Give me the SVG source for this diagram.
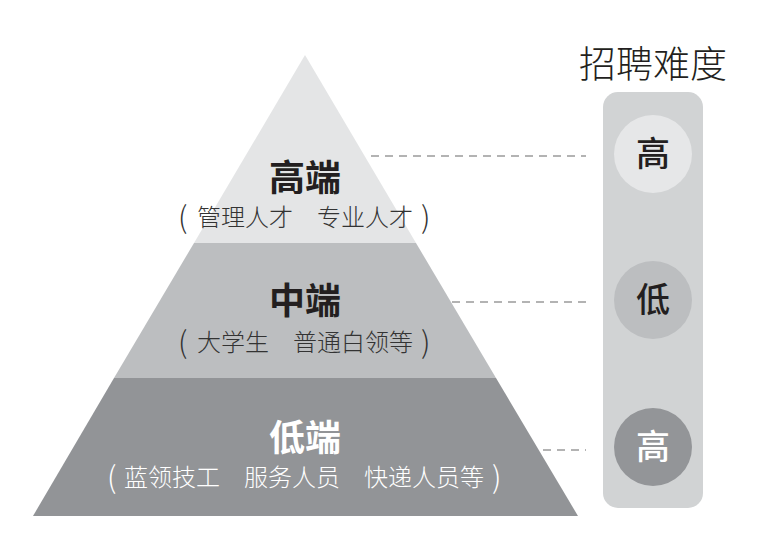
<svg xmlns="http://www.w3.org/2000/svg" width="758" height="545" viewBox="0 0 758 545">
<style>
.t{font-family:"Noto Sans CJK SC","Noto Sans",sans-serif;text-anchor:middle}
.p{font-family:"Noto Sans CJK SC","Noto Sans",sans-serif;font-size:30px;font-weight:300}
.h{font-size:36px;font-weight:700}
.s{font-size:24px;font-weight:300}
.c{font-size:34px;font-weight:500}
.dash{stroke:#9a9a9a;stroke-width:1.6;stroke-dasharray:8 6;fill:none}
</style>
<rect width="758" height="545" fill="#ffffff"/>
<g id="connectors">
<line class="dash" x1="371" y1="156" x2="586" y2="156"/>
<line class="dash" x1="452" y1="302" x2="586" y2="302"/>
<line class="dash" x1="543" y1="450" x2="586" y2="450"/>
</g>
<g id="tier-high">
<polygon points="305,55 194,243 416,243" fill="#e4e5e6"/>
<text class="t h" x="305" y="191" fill="#231f20">高端</text>
<text class="p" x="178" y="228" fill="#333333">(</text>
<text class="t s" x="305" y="226" fill="#333333">管理人才　专业人才</text>
<text class="p" x="421" y="228" fill="#333333">)</text>
</g>
<g id="tier-mid">
<polygon points="194,243 416,243 496,378 114,378" fill="#bcbec0"/>
<text class="t h" x="305" y="314" fill="#231f20">中端</text>
<text class="p" x="178" y="353" fill="#333333">(</text>
<text class="t s" x="305" y="351" fill="#333333">大学生　普通白领等</text>
<text class="p" x="421" y="353" fill="#333333">)</text>
</g>
<g id="tier-low">
<polygon points="114,378 496,378 578,516 33,516" fill="#929497"/>
<text class="t h" x="305" y="451" fill="#ffffff">低端</text>
<text class="p" x="107" y="488" fill="#ffffff">(</text>
<text class="t s" x="304" y="486" fill="#ffffff">蓝领技工　服务人员　快递人员等</text>
<text class="p" x="492" y="488" fill="#ffffff">)</text>
</g>
<g id="difficulty-panel">
<text class="t" x="653" y="78" font-size="37" font-weight="300" fill="#231f20">招聘难度</text>
<rect x="603" y="92" width="100" height="416" rx="15" fill="#d1d3d4"/>
</g>
<g id="level-high-top">
<circle cx="653" cy="154" r="39" fill="#e6e7e8"/>
<text class="t c" x="653" y="166" fill="#231f20">高</text>
</g>
<g id="level-low">
<circle cx="653" cy="300" r="39" fill="#bcbec0"/>
<text class="t c" x="653" y="312" fill="#231f20">低</text>
</g>
<g id="level-high-bottom">
<circle cx="653" cy="447" r="39" fill="#939598"/>
<text class="t c" x="653" y="459" fill="#ffffff">高</text>
</g>
</svg>
